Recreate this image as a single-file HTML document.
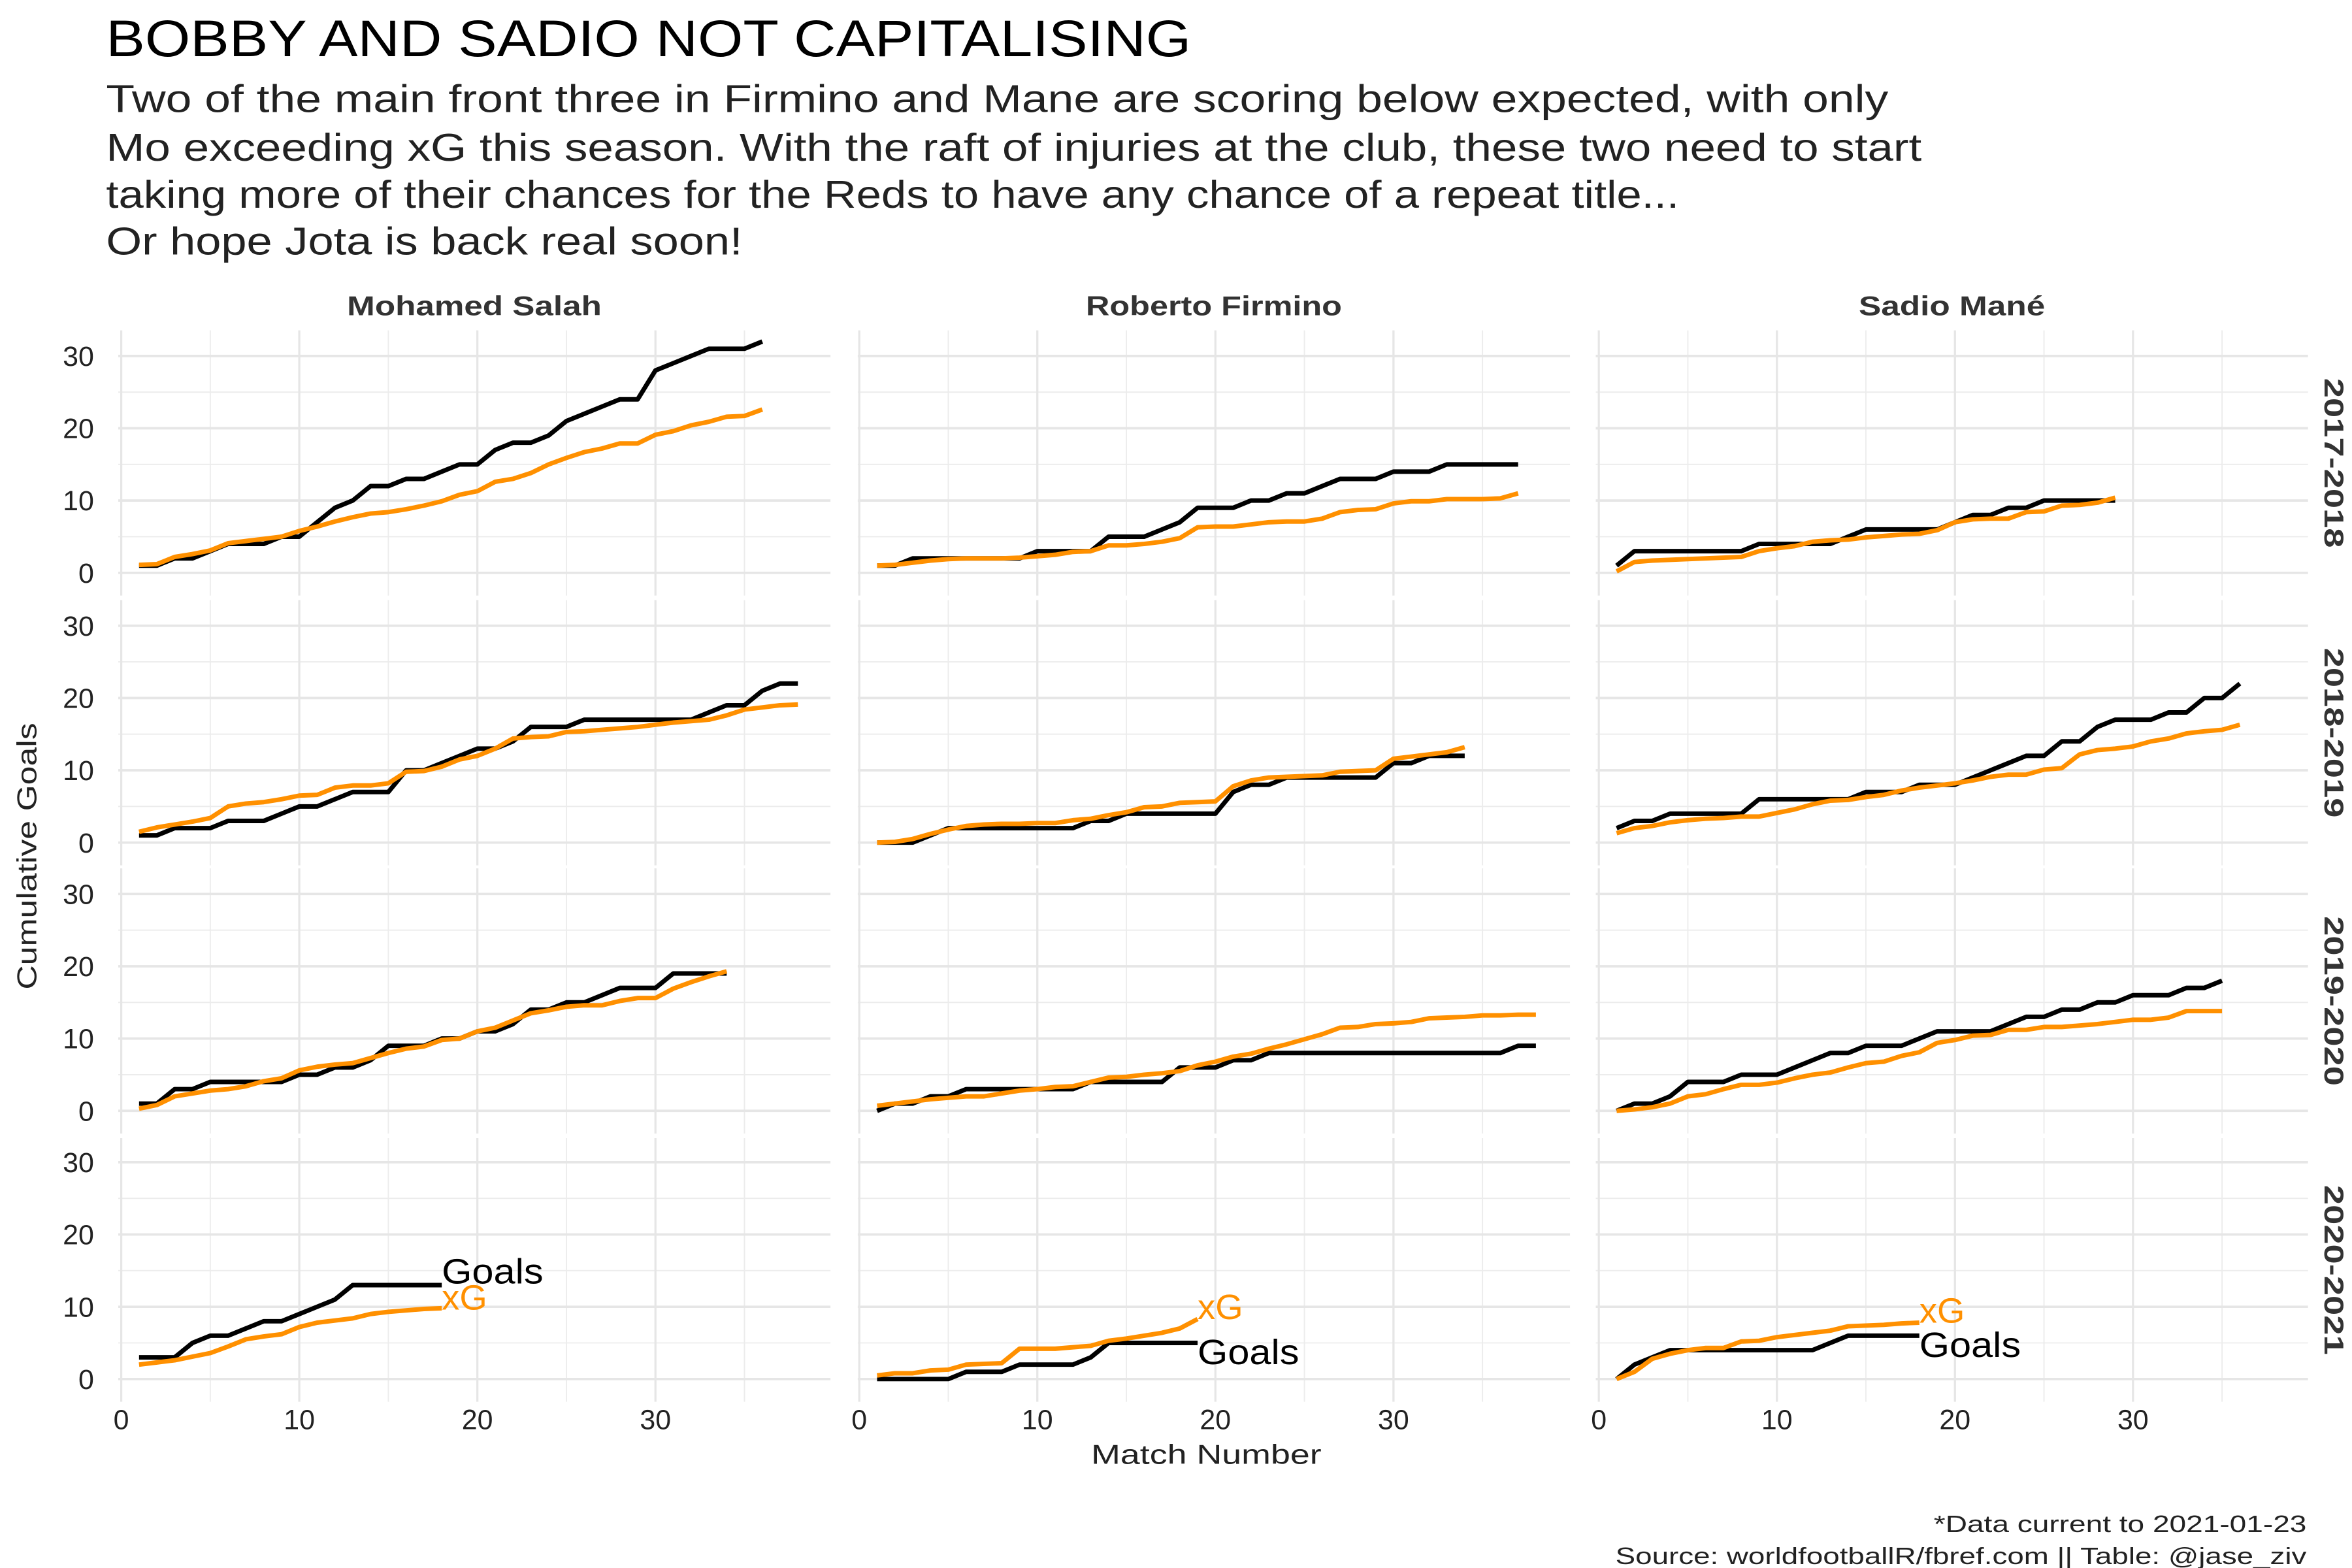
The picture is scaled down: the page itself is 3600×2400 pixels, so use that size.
<!DOCTYPE html>
<html><head><meta charset="utf-8"><style>
html,body{margin:0;padding:0;background:#fff}
svg{display:block}
text{font-family:"Liberation Sans",sans-serif}
</style></head><body>
<svg id="chart" width="3600" height="2400" viewBox="0 0 1552 1034.67" xmlns="http://www.w3.org/2000/svg">
<rect width="1552" height="1035" fill="#fff"/>
<text x="70" y="37" font-size="34" fill="#000" textLength="716" lengthAdjust="spacingAndGlyphs">BOBBY AND SADIO NOT CAPITALISING</text>
<g font-size="25.5" fill="#222">
<text x="70" y="74" textLength="1176" lengthAdjust="spacingAndGlyphs">Two of the main front three in Firmino and Mane are scoring below expected, with only</text>
<text x="70" y="106" textLength="1198" lengthAdjust="spacingAndGlyphs">Mo exceeding xG this season. With the raft of injuries at the club, these two need to start</text>
<text x="70" y="137" textLength="1038" lengthAdjust="spacingAndGlyphs">taking more of their chances for the Reds to have any chance of a repeat title...</text>
<text x="70" y="168" textLength="420" lengthAdjust="spacingAndGlyphs">Or hope Jota is back real soon!</text>
</g>
<g id="panels"></g>
<text x="796" y="966" font-size="18" text-anchor="middle" fill="#222" textLength="152" lengthAdjust="spacingAndGlyphs">Match Number</text>
<text transform="translate(24,565) rotate(-90)" font-size="18" text-anchor="middle" fill="#222" textLength="176" lengthAdjust="spacingAndGlyphs">Cumulative Goals</text>
<text x="1522" y="1011" font-size="15.5" text-anchor="end" fill="#222" textLength="246" lengthAdjust="spacingAndGlyphs">*Data current to 2021-01-23</text>
<text x="1522" y="1032" font-size="15.5" text-anchor="end" fill="#222" textLength="456" lengthAdjust="spacingAndGlyphs">Source: worldfootballR/fbref.com  ||  Table: @jase_ziv</text>
</svg>
<script>
const players = ["Mohamed Salah", "Roberto Firmino", "Sadio Mané"];
const seasons = ["2017-2018", "2018-2019", "2019-2020", "2020-2021"];
const xTicks = [0, 10, 20, 30];
const yTicks = [0, 10, 20, 30];
const goalsSalah = [
 [1,1,2,2,3,4,4,4,5,5,7,9,10,12,12,13,13,14,15,15,17,18,18,19,21,22,23,24,24,28,29,30,31,31,31,32],
 [1,1,2,2,2,3,3,3,4,5,5,6,7,7,7,10,10,11,12,13,13,14,16,16,16,17,17,17,17,17,17,17,18,19,19,21,22,22],
 [1,1,3,3,4,4,4,4,4,5,5,6,6,7,9,9,9,10,10,11,11,12,14,14,15,15,16,17,17,17,19,19,19,19],
 [3,3,3,5,6,6,7,8,8,9,10,11,13,13,13,13,13,13]
];
const xgSalah = [
 [1.1,1.2,2.2,2.6,3.1,4.1,4.4,4.7,5.0,5.8,6.4,7.1,7.7,8.2,8.4,8.8,9.3,9.9,10.8,11.3,12.6,13.0,13.8,15.0,15.9,16.7,17.2,17.9,17.9,19.1,19.6,20.4,20.9,21.6,21.7,22.6],
 [1.5,2.1,2.5,2.9,3.4,5.0,5.4,5.6,6.0,6.5,6.6,7.6,7.9,7.9,8.2,9.8,9.9,10.5,11.5,12.0,13.0,14.4,14.6,14.7,15.3,15.4,15.6,15.8,16.0,16.3,16.6,16.8,17.0,17.6,18.4,18.7,19.0,19.1],
 [0.3,0.8,2.0,2.4,2.8,3.0,3.4,4.1,4.5,5.6,6.1,6.4,6.6,7.3,8.0,8.6,8.9,9.8,10.0,11.0,11.5,12.5,13.5,13.9,14.4,14.6,14.6,15.2,15.6,15.6,16.9,17.8,18.6,19.3],
 [2.0,2.3,2.6,3.1,3.6,4.5,5.5,5.9,6.2,7.2,7.8,8.1,8.4,9.0,9.3,9.5,9.7,9.8]
];
const goalsFirmino = [
 [1,1,2,2,2,2,2,2,2,3,3,3,3,5,5,5,6,7,9,9,9,10,10,11,11,12,13,13,13,14,14,14,15,15,15,15,15],
 [0,0,0,1,2,2,2,2,2,2,2,2,3,3,4,4,4,4,4,4,7,8,8,9,9,9,9,9,9,11,11,12,12,12],
 [0,1,1,2,2,3,3,3,3,3,3,3,4,4,4,4,4,6,6,6,7,7,8,8,8,8,8,8,8,8,8,8,8,8,8,8,9,9],
 [0,0,0,0,0,1,1,1,2,2,2,2,3,5,5,5,5,5,5]
];
const xgFirmino = [
 [1.0,1.1,1.4,1.7,1.9,2.0,2.0,2.0,2.1,2.3,2.5,2.9,3.0,3.8,3.8,4.0,4.3,4.8,6.3,6.4,6.4,6.7,7.0,7.1,7.1,7.5,8.4,8.7,8.8,9.6,9.9,9.9,10.2,10.2,10.2,10.3,11.0],
 [0,0.1,0.5,1.2,1.8,2.3,2.5,2.6,2.6,2.7,2.7,3.1,3.3,3.8,4.2,4.9,5.0,5.5,5.6,5.7,7.8,8.6,9.0,9.1,9.2,9.3,9.8,9.9,10.0,11.6,11.9,12.2,12.5,13.2],
 [0.7,1.0,1.3,1.6,1.8,2.0,2.0,2.4,2.8,3.0,3.3,3.4,4.0,4.6,4.7,5.0,5.2,5.5,6.3,6.8,7.5,7.9,8.6,9.2,9.9,10.6,11.5,11.6,12.0,12.1,12.3,12.8,12.9,13.0,13.2,13.2,13.3,13.3],
 [0.5,0.8,0.8,1.2,1.3,2.0,2.1,2.2,4.2,4.2,4.2,4.4,4.6,5.3,5.6,6.0,6.4,7.0,8.3]
];
const goalsMane = [
 [1,3,3,3,3,3,3,3,4,4,4,4,4,5,6,6,6,6,6,7,8,8,9,9,10,10,10,10,10],
 [2,3,3,4,4,4,4,4,6,6,6,6,6,6,7,7,7,8,8,8,9,10,11,12,12,14,14,16,17,17,17,18,18,20,20,22],
 [0,1,1,2,4,4,4,5,5,5,6,7,8,8,9,9,9,10,11,11,11,11,12,13,13,14,14,15,15,16,16,16,17,17,18],
 [0,2,3,4,4,4,4,4,4,4,4,4,5,6,6,6,6,6]
];
const xgMane = [
 [0.2,1.5,1.7,1.8,1.9,2.0,2.1,2.2,3.0,3.4,3.7,4.3,4.5,4.6,4.9,5.1,5.3,5.4,5.9,7.0,7.4,7.5,7.5,8.4,8.5,9.3,9.4,9.7,10.4],
 [1.3,2.0,2.3,2.8,3.1,3.3,3.4,3.6,3.6,4.1,4.6,5.3,5.8,5.9,6.3,6.6,7.2,7.6,7.9,8.2,8.6,9.1,9.4,9.4,10.1,10.3,12.2,12.8,13.0,13.3,14.0,14.4,15.1,15.4,15.6,16.3],
 [0,0.2,0.5,1.0,2.0,2.3,3.0,3.6,3.6,3.9,4.5,5.0,5.3,6.0,6.6,6.8,7.6,8.1,9.4,9.8,10.4,10.5,11.2,11.2,11.6,11.6,11.8,12.0,12.3,12.6,12.6,12.9,13.8,13.8,13.8],
 [0,1.0,2.8,3.5,4.0,4.3,4.3,5.2,5.3,5.8,6.1,6.4,6.7,7.3,7.4,7.5,7.7,7.8]
];
const goalsAll = [goalsSalah, goalsFirmino, goalsMane];
const xgAll = [xgSalah, xgFirmino, xgMane];
const NS = "http://www.w3.org/2000/svg";
const root = document.getElementById("panels");
const colX0 = [80, 567, 1055], pxPerMatch = 11.75;
const panelLeft = [78, 566, 1053], panelW = 470;
const rowY0 = [378, 556, 733, 910], pxPerGoal = 4.77;
const rowTop = [218, 396, 573, 751];
const headerLen = [168, 169, 123];
function mk(tag, attrs){const e=document.createElementNS(NS,tag);for(const k in attrs)e.setAttribute(k,attrs[k]);return e;}
function sx(c,v){return colX0[c]+v*pxPerMatch;}
function sy(r,v){return rowY0[r]-v*pxPerGoal;}
const pslug = ["salah","firmino","mane"];
for(let c=0;c<3;c++){
  const h = mk("text",{x:panelLeft[c]+panelW/2,y:208,"font-size":18,"font-weight":"bold","text-anchor":"middle",fill:"#333",textLength:headerLen[c],lengthAdjust:"spacingAndGlyphs"});
  
  
  h.textContent = players[c]; root.appendChild(h);
}
for(let r=0;r<4;r++){
  const s = mk("text",{transform:`translate(1534,${(rowTop[r]+rowY0[r]+15)/2}) rotate(90)`,"font-size":18,"font-weight":"bold","text-anchor":"middle",fill:"#333",textLength:112,lengthAdjust:"spacingAndGlyphs"});
  
  
  s.textContent = seasons[r]; root.appendChild(s);
  for(let c=0;c<3;c++){
    const g = mk("g",{});
    
    
    root.appendChild(g);
    const top=rowTop[r], bot=rowY0[r]+15, L=panelLeft[c], R=L+panelW;
    for(const v of [5,15,25,35]) g.appendChild(mk("line",{x1:sx(c,v),x2:sx(c,v),y1:top,y2:bot,stroke:"#ececec","stroke-width":0.8}));
    for(const v of [5,15,25]) g.appendChild(mk("line",{x1:L,x2:R,y1:sy(r,v),y2:sy(r,v),stroke:"#ececec","stroke-width":0.8}));
    for(const v of xTicks) g.appendChild(mk("line",{x1:sx(c,v),x2:sx(c,v),y1:top,y2:bot,stroke:"#e6e6e6","stroke-width":1.4}));
    for(const v of yTicks) g.appendChild(mk("line",{x1:L,x2:R,y1:sy(r,v),y2:sy(r,v),stroke:"#e6e6e6","stroke-width":1.6}));
    const gd = goalsAll[c][r], xd = xgAll[c][r];
    const gl = mk("polyline",{points:gd.map((v,i)=>sx(c,i+1)+","+sy(r,v)).join(" "),fill:"none",stroke:"#000","stroke-width":3,"stroke-linejoin":"round"});
    
    
    g.appendChild(gl);
    const xl = mk("polyline",{points:xd.map((v,i)=>sx(c,i+1)+","+sy(r,v)).join(" "),fill:"none",stroke:"#FF9000","stroke-width":3,"stroke-linejoin":"round"});
    
    
    g.appendChild(xl);
    if(c===0){
      for(const v of yTicks){
        const t = mk("text",{x:62,y:sy(r,v)+6.5,"font-size":18.5,"text-anchor":"end",fill:"#222"});
        
        
        t.textContent=v; root.appendChild(t);
      }
    }
    if(r===3){
      for(const v of xTicks){
        const t = mk("text",{x:sx(c,v),y:943,"font-size":18.5,"text-anchor":"middle",fill:"#222"});
        
        
        t.textContent=v; root.appendChild(t);
      }
      const n=gd.length, gv=gd[n-1], xv=xd[xd.length-1];
      const gAbove = gv>=xv;
      const tg = mk("text",{x:sx(c,n),y:sy(r,gv)+(gAbove?-1:14),"font-size":23,fill:"#000",textLength:67,lengthAdjust:"spacingAndGlyphs"});
      
      
      tg.textContent="Goals"; g.appendChild(tg);
      const tx = mk("text",{x:sx(c,xd.length),y:sy(r,xv)+(gAbove?1:0),"font-size":23,fill:"#FF9000",textLength:30,lengthAdjust:"spacingAndGlyphs"});
      
      
      tx.textContent="xG"; g.appendChild(tx);
    }
  }
}
</script>
</body></html>
